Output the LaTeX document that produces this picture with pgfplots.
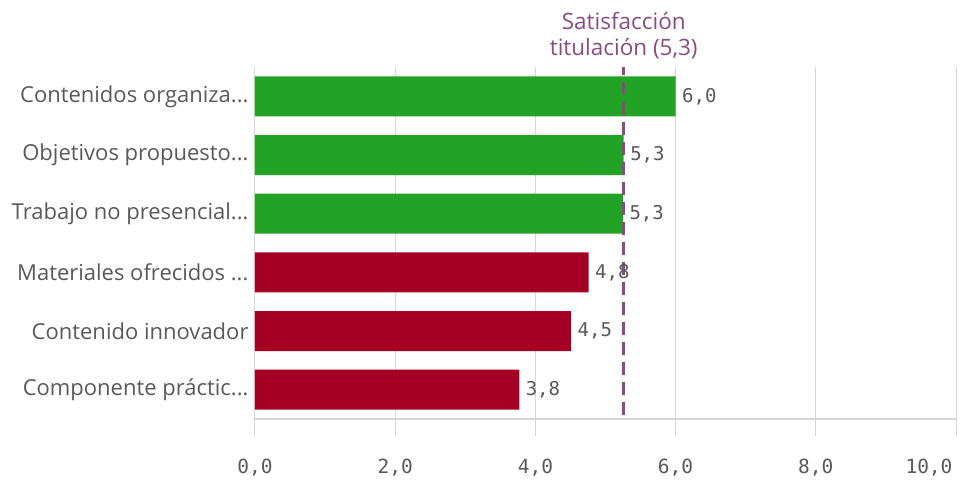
\documentclass[border=0pt]{standalone}
\usepackage{pgfplots}
\pgfplotsset{compat=1.18}
\usepackage{fontspec}
\setmainfont{Open Sans}
\newfontfamily\monofont{DejaVu Sans Mono}
\definecolor{barverde}{HTML}{22A325}
\definecolor{barrojo}{HTML}{A30024}
\definecolor{media}{HTML}{8C4A82}
\definecolor{texto}{HTML}{595959}
\definecolor{rejilla}{HTML}{D6D6D6}
\newcommand{\pts}{...}

\begin{document}
\begin{tikzpicture}
\path[use as bounding box] (-255pt,-61pt) rectangle (719pt,419pt);
\begin{axis}[
  scale only axis, width=701pt, height=352pt,
  xmin=0, xmax=10, ymin=-0.5, ymax=5.5,
  clip=false,
  xbar, bar width=40pt,
  xtick={0,2,...,8}, ytick={0,...,5},
  extra x ticks={10},
  extra x tick style={xticklabel style={anchor=north east, xshift=0pt}},
  yticklabels={Componente práctic\pts, Contenido innovador, Materiales ofrecidos \pts, Trabajo no presencial\pts, Objetivos propuesto\pts, Contenidos organiza\pts},
  xmajorgrids, grid style={rejilla, line width=1pt},
  axis line style={draw=none},
  xtick pos=bottom, tick align=outside, major tick length=17pt,
  xtick style={rejilla, line width=1pt},
  ytick style={draw=none},
  xticklabel style={font=\monofont\fontsize{19.5}{22}\selectfont, text=texto, yshift=-19pt},
  yticklabel style={font=\fontsize{22}{26}\selectfont, text=texto, xshift=14pt},
  /pgf/number format/.cd, use comma, fixed, fixed zerofill, precision=1, assume math mode=true, /pgfplots/.cd,
  nodes near coords,
  every node near coord/.append style={font=\monofont\fontsize{19}{22}\selectfont, text=texto, anchor=west, xshift=3pt},
  point meta=x,
]
\addplot[fill=barverde, draw=none, bar shift=0pt] coordinates {(6.0,5) (5.26,4) (5.25,3)};
\addplot[fill=barrojo, draw=none, bar shift=0pt] coordinates {(4.76,2) (4.51,1) (3.77,0)};
\draw[rejilla, line width=1.5pt] (rel axis cs:0,0) -- (rel axis cs:1,0);
\draw[media, line width=3pt, dash pattern=on 13pt off 7pt] (axis cs:5.26,-0.44) -- (axis cs:5.26,5.5);
\node[media, align=center, font=\fontsize{22.5}{26}\selectfont, anchor=south, inner sep=0pt, yshift=8pt] at (axis cs:5.26,5.5) {Satisfacción\\titulación (5,3)};
\end{axis}
\end{tikzpicture}
\end{document}
